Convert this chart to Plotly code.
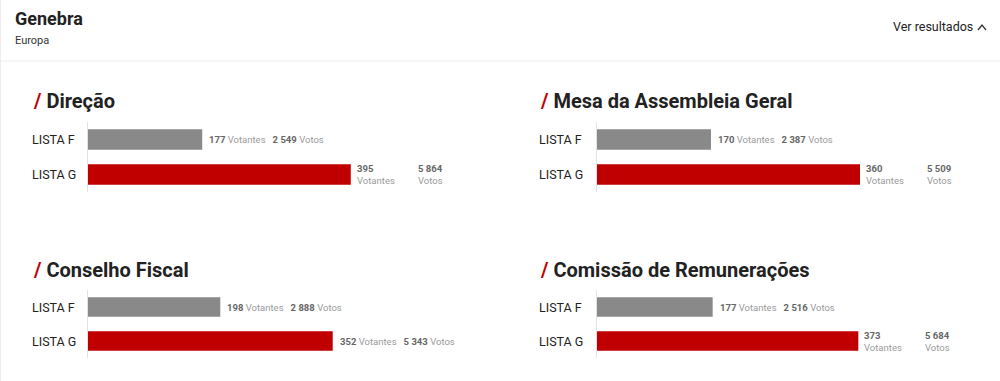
import plotly.graph_objects as go

# ---- data ----
header_title = "Genebra"
header_sub = "Europa"
link_text = "Ver resultados"
panel_titles = ["Direção", "Mesa da Assembleia Geral", "Conselho Fiscal", "Comissão de Remunerações"]
listas = ["LISTA F", "LISTA G"]
votantes_f = [177, 170, 198, 177]
votantes_g = [395, 360, 352, 373]
votos_f = [2549, 2387, 2888, 2516]
votos_g = [5864, 5509, 5343, 5684]

W, H = 1000, 381
FONT = "Roboto"
GRAY = "#898989"
RED = "#c00000"

def px(x):
    return x / W

def py(y):
    return 1 - y / H

def fmt(n):
    return f"{n:,}".replace(",", " ")

# panel placement (pixels)
x_domains = [(88, 465), (597, 974), (88, 465), (597, 974)]
y_domains = [(122, 192), (122, 192), (290, 358), (290, 358)]
title_pos = [(31, 101), (538, 101), (31, 270), (538, 270)]

fig = go.Figure()
annotations = []
shapes = []
layout_axes = {}

for i in range(4):
    n = i + 1
    xa = "x" if n == 1 else f"x{n}"
    ya = "y" if n == 1 else f"y{n}"
    total = votos_f[i] + votos_g[i]
    pcts = [votos_f[i] / total * 100, votos_g[i] / total * 100]
    fig.add_trace(go.Bar(
        x=pcts, y=listas, orientation="h",
        marker=dict(color=[GRAY, RED], line=dict(width=0)),
        xaxis=xa, yaxis=ya, hoverinfo="skip", showlegend=False,
    ))
    x0, x1 = x_domains[i]
    y0, y1 = y_domains[i]
    layout_axes[f"xaxis{'' if n == 1 else n}"] = dict(
        domain=[px(x0), px(x1)], range=[0, 100], visible=False,
        anchor=ya, fixedrange=True)
    layout_axes[f"yaxis{'' if n == 1 else n}"] = dict(
        domain=[py(y1), py(y0)], anchor=xa, type="category",
        categoryorder="array", categoryarray=listas, autorange="reversed",
        showticklabels=False, showgrid=False, zeroline=False,
        showline=True, linecolor="#e3e3e3", linewidth=1, ticks="",
        fixedrange=True)

    # panel title
    tx, ty = title_pos[i]
    annotations.append(dict(
        text=f"<span style='color:{RED}'>/</span> {panel_titles[i]}",
        xref="paper", yref="paper", x=px(tx), y=py(ty),
        xanchor="left", yanchor="middle", showarrow=False,
        font=dict(family=FONT, size=20, color="#222222", weight="bold")))

    # category labels
    for lab in listas:
        annotations.append(dict(
            text=lab, xref="paper", yref=ya, x=px(tx - 1), y=lab,
            xanchor="left", yanchor="middle", showarrow=False,
            font=dict(family=FONT, size=12.5, color="#222222")))

    # value labels
    vts = [votantes_f[i], votantes_g[i]]
    vos = [votos_f[i], votos_g[i]]
    for j, lab in enumerate(listas):
        wrap = pcts[j] > 67
        if wrap:
            annotations.append(dict(
                text=f"<b style='color:#666'>{fmt(vts[j])}</b><br>Votantes",
                xref=xa, yref=ya, x=pcts[j], y=lab, xshift=4,
                xanchor="left", yanchor="middle", align="left", showarrow=False,
                font=dict(family=FONT, size=9.5, color="#9a9a9a")))
            annotations.append(dict(
                text=f"<b style='color:#666'>{fmt(vos[j])}</b><br>Votos",
                xref=xa, yref=ya, x=pcts[j], y=lab, xshift=65,
                xanchor="left", yanchor="middle", align="left", showarrow=False,
                font=dict(family=FONT, size=9.5, color="#9a9a9a")))
        else:
            annotations.append(dict(
                text=(f"<b style='color:#666'>{fmt(vts[j])}</b> Votantes\u00a0\u00a0 "
                      f"<b style='color:#666'>{fmt(vos[j])}</b> Votos"),
                xref=xa, yref=ya, x=pcts[j], y=lab, xshift=5,
                xanchor="left", yanchor="middle", showarrow=False,
                font=dict(family=FONT, size=9.5, color="#9a9a9a")))

# header
annotations.append(dict(
    text=header_title, xref="paper", yref="paper", x=px(13), y=py(18),
    xanchor="left", yanchor="middle", showarrow=False,
    font=dict(family=FONT, size=18, color="#222222", weight="bold")))
annotations.append(dict(
    text=header_sub, xref="paper", yref="paper", x=px(13), y=py(40),
    xanchor="left", yanchor="middle", showarrow=False,
    font=dict(family=FONT, size=11, color="#333333")))
annotations.append(dict(
    text=link_text, xref="paper", yref="paper", x=px(975), y=py(27),
    xanchor="right", yanchor="middle", showarrow=False,
    font=dict(family=FONT, size=12.5, color="#222222")))

# chevron & separators
shapes.append(dict(type="path", xref="paper", yref="paper",
                   path=f"M {px(978)} {py(30)} L {px(982)} {py(25)} L {px(986)} {py(30)}",
                   line=dict(color="#333333", width=1.3)))
shapes.append(dict(type="line", xref="paper", yref="paper",
                   x0=0, x1=1, y0=py(61), y1=py(61),
                   line=dict(color="#eeeeee", width=1)))
shapes.append(dict(type="line", xref="paper", yref="paper",
                   x0=px(0.5), x1=px(0.5), y0=0, y1=1,
                   line=dict(color="#eeeeee", width=1)))

fig.update_layout(
    width=W, height=H, margin=dict(l=0, r=0, t=0, b=0),
    paper_bgcolor="white", plot_bgcolor="white",
    bargap=0.42, annotations=annotations, shapes=shapes,
    font=dict(family=FONT), **layout_axes)

fig.write_html("out.html", config={"displayModeBar": False})
